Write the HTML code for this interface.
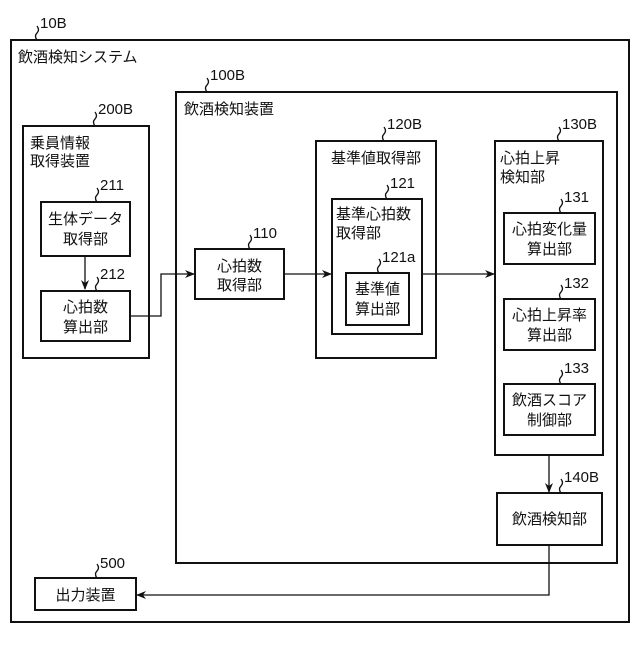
<!DOCTYPE html>
<html><head><meta charset="utf-8"><style>
html,body{margin:0;padding:0;background:#fff}
svg text{font-family:"Liberation Sans","Noto Sans CJK JP",sans-serif;font-size:15px;fill:#111}
</style></head><body>
<svg width="640" height="640" viewBox="0 0 640 640" xmlns="http://www.w3.org/2000/svg">
<defs><marker id="a" markerWidth="10" markerHeight="8" refX="9" refY="4" orient="auto" markerUnits="userSpaceOnUse"><path d="M0,0 L10,4 L0,8 L3,4 Z" fill="#111"/></marker></defs>
<g fill="none" stroke="#111" stroke-width="2">
<rect x="11" y="40" width="618" height="582"/>
<rect x="176" y="92" width="441" height="471"/>
<rect x="23" y="126" width="126" height="232"/>
<rect x="41" y="202" width="89" height="54"/>
<rect x="41" y="291" width="89" height="50"/>
<rect x="195" y="249" width="89" height="50"/>
<rect x="316" y="141" width="120" height="217"/>
<rect x="332" y="199" width="90" height="135"/>
<rect x="346" y="273" width="63" height="52"/>
<rect x="495" y="141" width="108" height="314"/>
<rect x="504" y="213" width="91" height="51"/>
<rect x="504" y="299" width="91" height="51"/>
<rect x="504" y="384" width="91" height="51"/>
<rect x="497" y="493" width="105" height="52"/>
<rect x="35" y="578" width="101" height="32"/>
</g>
<g fill="none" stroke="#111" stroke-width="1.3">
<path d="M85 256 V289" marker-end="url(#a)"/>
<path d="M130 316 H161 V274 H194" marker-end="url(#a)"/>
<path d="M284 274 H331" marker-end="url(#a)"/>
<path d="M422 274 H494" marker-end="url(#a)"/>
<path d="M549 455 V492" marker-end="url(#a)"/>
<path d="M549 545 V595 H137" marker-end="url(#a)"/>
<path d="M37 40 q-3-4 0-7 q3-3 0-7 M207 92 q-3-4 0-7 q3-3 0-7 M95 126 q-3-4 0-7 q3-3 0-7 M97 202 q-3-4 0-7 q3-3 0-7 M97 291 q-3-4 0-7 q3-3 0-7 M250 249 q-3-4 0-7 q3-3 0-7 M384 141 q-3-4 0-7 q3-3 0-7 M387 199 q-3-4 0-7 q3-3 0-7 M379 273 q-3-4 0-7 q3-3 0-7 M559 141 q-3-4 0-7 q3-3 0-7 M561 213 q-3-4 0-7 q3-3 0-7 M561 299 q-3-4 0-7 q3-3 0-7 M561 384 q-3-4 0-7 q3-3 0-7 M561 493 q-3-4 0-7 q3-3 0-7 M97 578 q-3-4 0-7 q3-3 0-7"/>
</g>
<text x="40" y="28">10B</text>
<text x="18" y="62">飲酒検知システム</text>
<text x="210" y="80">100B</text>
<text x="184" y="114">飲酒検知装置</text>
<text x="98" y="114">200B</text>
<text x="30" y="148">乗員情報</text>
<text x="30" y="166">取得装置</text>
<text x="100" y="190">211</text>
<text x="85.5" y="224" text-anchor="middle">生体データ</text>
<text x="85.5" y="244" text-anchor="middle">取得部</text>
<text x="100" y="279">212</text>
<text x="85.5" y="312" text-anchor="middle">心拍数</text>
<text x="85.5" y="332" text-anchor="middle">算出部</text>
<text x="253" y="238">110</text>
<text x="239.5" y="271" text-anchor="middle">心拍数</text>
<text x="239.5" y="290" text-anchor="middle">取得部</text>
<text x="387" y="129">120B</text>
<text x="376" y="163" text-anchor="middle">基準値取得部</text>
<text x="390" y="188">121</text>
<text x="336" y="219">基準心拍数</text>
<text x="336" y="238">取得部</text>
<text x="382" y="262">121a</text>
<text x="377.5" y="294" text-anchor="middle">基準値</text>
<text x="377.5" y="314" text-anchor="middle">算出部</text>
<text x="562" y="129">130B</text>
<text x="500" y="163">心拍上昇</text>
<text x="500" y="182">検知部</text>
<text x="564" y="202">131</text>
<text x="549.5" y="234" text-anchor="middle">心拍変化量</text>
<text x="549.5" y="254" text-anchor="middle">算出部</text>
<text x="564" y="288">132</text>
<text x="549.5" y="320" text-anchor="middle">心拍上昇率</text>
<text x="549.5" y="340" text-anchor="middle">算出部</text>
<text x="564" y="373">133</text>
<text x="549.5" y="405" text-anchor="middle">飲酒スコア</text>
<text x="549.5" y="425" text-anchor="middle">制御部</text>
<text x="564" y="482">140B</text>
<text x="549.5" y="524" text-anchor="middle">飲酒検知部</text>
<text x="100" y="568">500</text>
<text x="85.5" y="600" text-anchor="middle">出力装置</text>
</svg>
</body></html>
